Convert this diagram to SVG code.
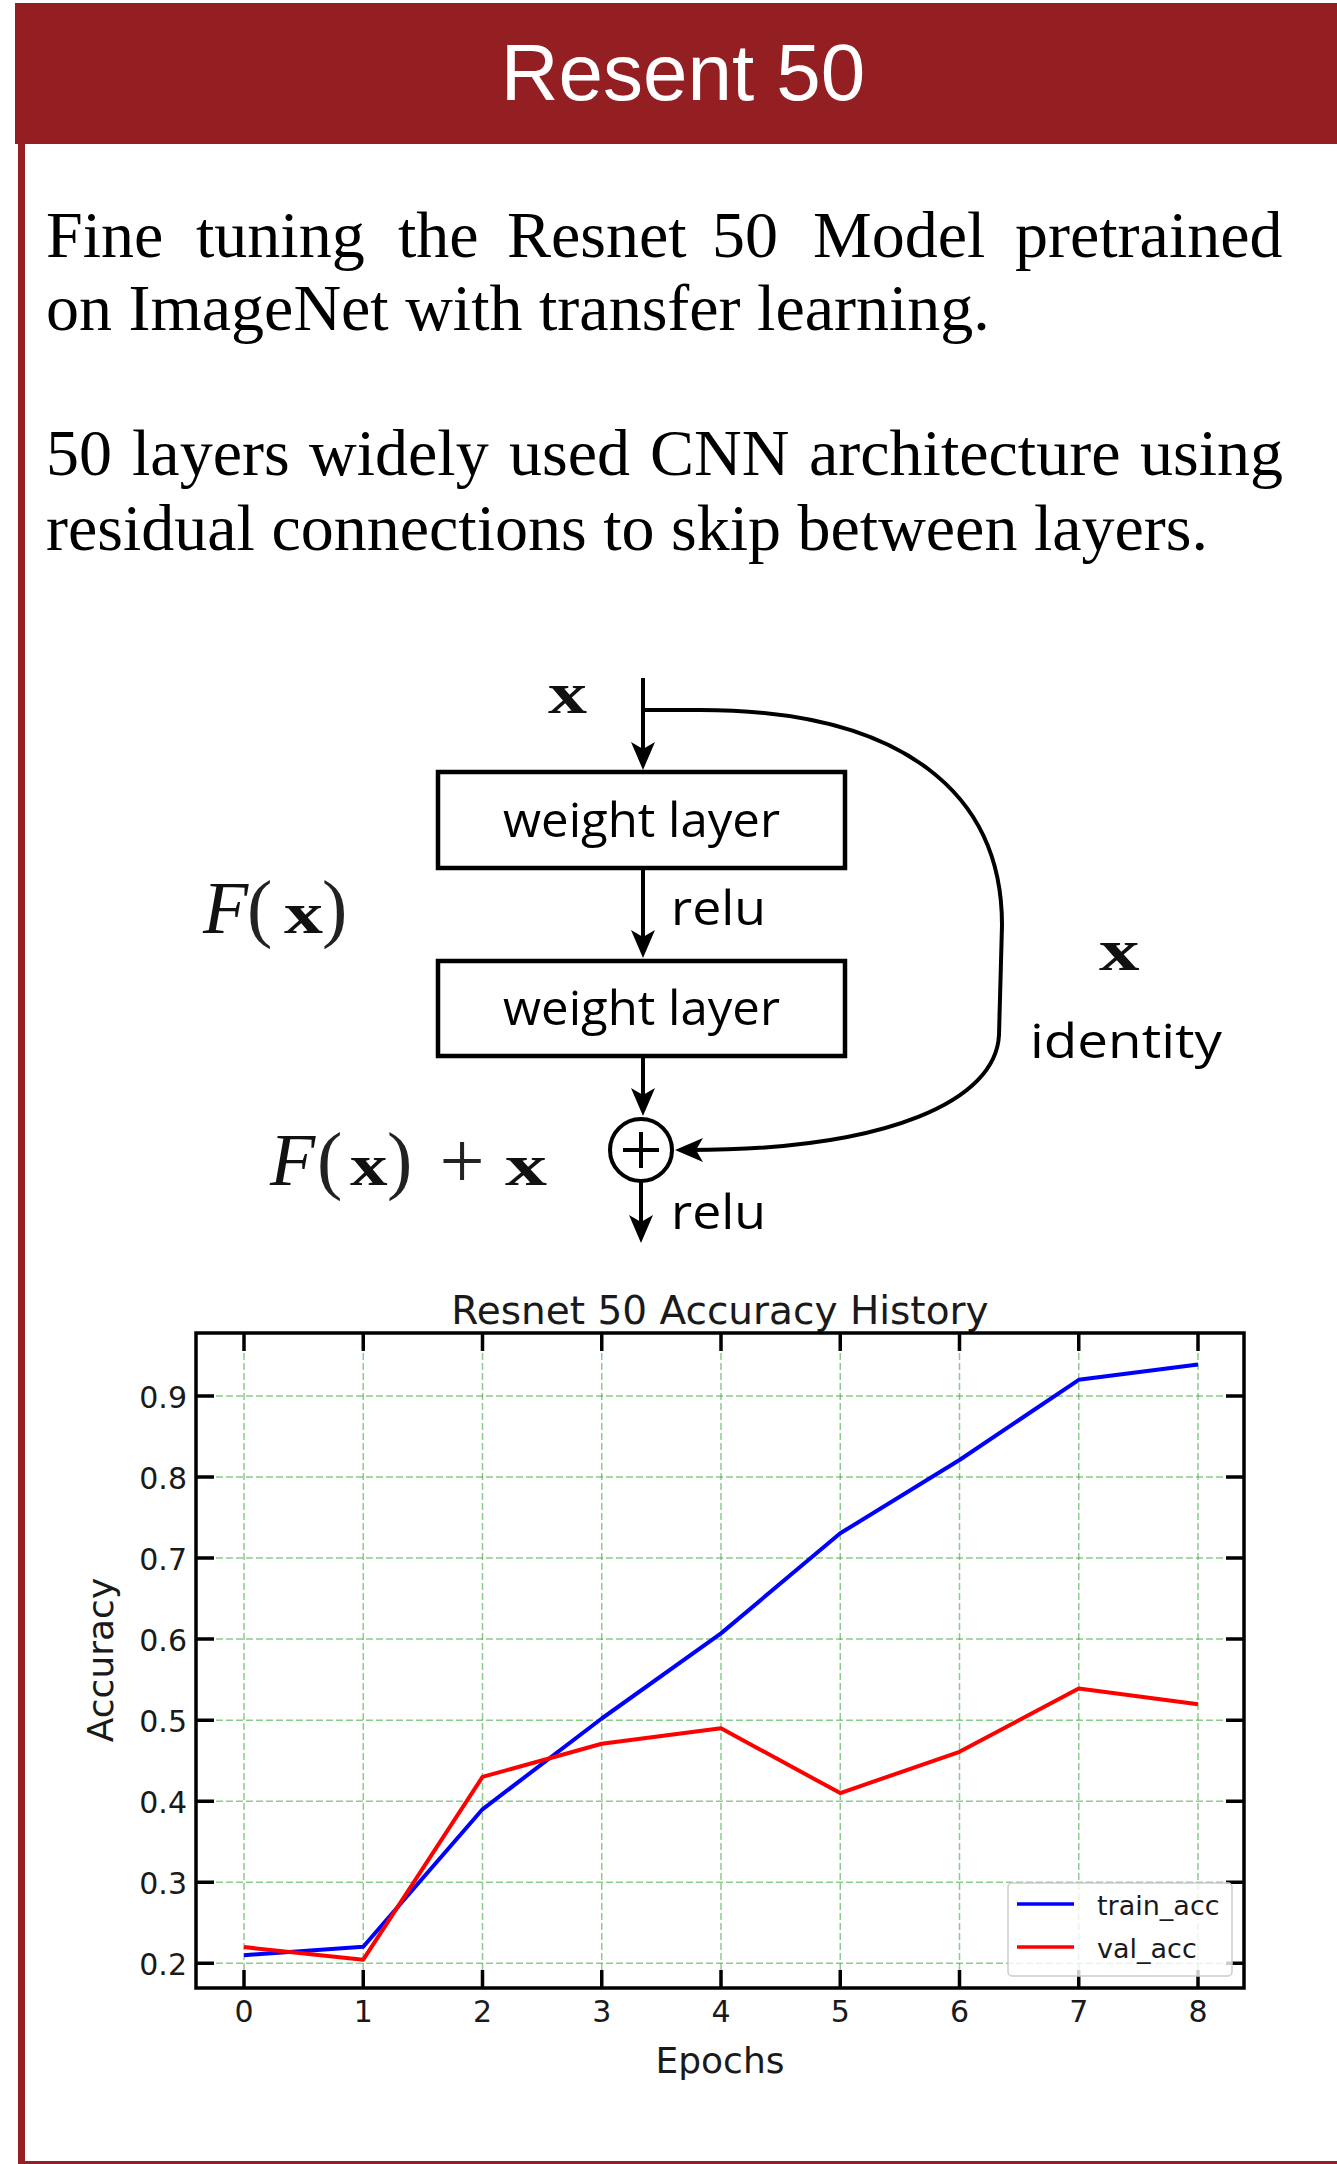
<svg xmlns="http://www.w3.org/2000/svg" width="1337" height="2164" viewBox="0 0 1337 2164">
<defs>
<style>
.body{font-family:"Liberation Serif","Times New Roman",serif;font-size:66px;fill:#000}
.cal{font-family:"Liberation Serif",serif;font-style:italic;font-size:74px;fill:#111}
.par{font-family:"Liberation Serif",serif;font-size:76px;fill:#222}
.bx{font-family:"Liberation Serif",serif;font-weight:bold;font-size:60px;fill:#111}
.lbl{font-family:"Open Sans","Noto Sans",sans-serif;font-size:47px;fill:#000}
.box{fill:#fff;stroke:#000;stroke-width:4.5}
.con{fill:none;stroke:#000;stroke-width:4}
.ch{font-family:"DejaVu Sans",sans-serif;fill:#1a1a1a}
.grid{stroke:#2ca02c;stroke-opacity:0.55;stroke-width:1.5;stroke-dasharray:7 3;fill:none}
.tick{stroke:#000;stroke-width:3.5}
</style>
<marker id="ah" viewBox="0 0 28 24" refX="14" refY="12" markerWidth="28" markerHeight="24" markerUnits="userSpaceOnUse" orient="auto">
<path d="M0,0 L28,12 L0,24 L7,12 Z" fill="#000"/>
</marker>
</defs>
<rect width="1337" height="2164" fill="#fff"/>
<g id="frame">
<rect x="18" y="140" width="7" height="2024" fill="#951f23"/>
<rect x="18" y="2161" width="1319" height="3" fill="#951f23"/>
</g>
<g id="header">
<rect x="15" y="3" width="1322" height="141" fill="#941f22"/>
<text x="683" y="100" text-anchor="middle" font-family="Liberation Sans, Arial, sans-serif" font-size="80" fill="#fff">Resent 50</text>
</g>
<g id="intro-text" class="body">
<text y="257"><tspan x="46">Fine</tspan><tspan x="196">tuning</tspan><tspan x="398">the</tspan><tspan x="507">Resnet</tspan><tspan x="712">50</tspan><tspan x="813">Model</tspan><tspan x="1015">pretrained</tspan></text>
<text x="46" y="330">on ImageNet with transfer learning.</text>
<text y="475"><tspan x="46">50</tspan><tspan x="132">layers</tspan><tspan x="309">widely</tspan><tspan x="509">used</tspan><tspan x="650">CNN</tspan><tspan x="809">architecture</tspan><tspan x="1140">using</tspan></text>
<text x="46" y="550">residual connections to skip between layers.</text>
</g>
<g id="connectors">
<path class="con" d="M643,678 L643,756" marker-end="url(#ah)"/>
<path class="con" d="M643,869 L643,944" marker-end="url(#ah)"/>
<path class="con" d="M643,1056 L643,1102" marker-end="url(#ah)"/>
<path class="con" d="M641,1182 L641,1229" marker-end="url(#ah)"/>
<path class="con" d="M643,710 L700,710 C905,710 1002,795 1002,925 L999,1035 C996,1100 890,1150 689,1150" marker-end="url(#ah)"/>
</g>
<g id="node-input-x">
<text class="bx" transform="translate(548,713) scale(1.3,1)" font-size="62">x</text>
</g>
<g id="node-weight1">
<rect class="box" x="438" y="772" width="407" height="96"/>
<text class="lbl" x="503" y="837" textLength="277" lengthAdjust="spacingAndGlyphs">weight layer</text>
</g>
<g id="label-relu1">
<text class="lbl" x="671" y="925" textLength="95" lengthAdjust="spacingAndGlyphs">relu</text>
</g>
<g id="node-weight2">
<rect class="box" x="438" y="961" width="407" height="95"/>
<text class="lbl" x="503" y="1025" textLength="277" lengthAdjust="spacingAndGlyphs">weight layer</text>
</g>
<g id="node-sum">
<circle cx="641" cy="1150" r="31" fill="#fff" stroke="#000" stroke-width="4"/>
<path d="M623,1150 H659 M641,1132 V1168" stroke="#000" stroke-width="4"/>
</g>
<g id="label-relu2">
<text class="lbl" x="671" y="1229" textLength="95" lengthAdjust="spacingAndGlyphs">relu</text>
</g>
<g id="label-Fx">
<text class="cal" x="203" y="933">F</text>
<text class="par" x="247" y="933">(</text>
<text class="bx" transform="translate(284,933) scale(1.3,1)">x</text>
<text class="par" x="322" y="933">)</text>
</g>
<g id="label-identity">
<text class="bx" transform="translate(1099,970) scale(1.35,1)" font-size="62">x</text>
<text class="lbl" x="1030" y="1058" textLength="192" lengthAdjust="spacingAndGlyphs">identity</text>
</g>
<g id="label-Fx-plus-x">
<text class="cal" x="270" y="1185">F</text>
<text class="par" x="317" y="1185">(</text>
<text class="bx" transform="translate(350,1185) scale(1.25,1)">x</text>
<text class="par" x="387" y="1185">)</text>
<text x="462" y="1188" text-anchor="middle" font-family="Liberation Serif, serif" font-size="80" fill="#222">+</text>
<text class="bx" transform="translate(505,1185) scale(1.4,1)">x</text>
</g>
<g id="chart">
<text class="ch" x="720" y="1324" text-anchor="middle" font-size="39">Resnet 50 Accuracy History</text>
<g id="grid">
<path class="grid" d="M244,1333V1988 M363.25,1333V1988 M482.5,1333V1988 M601.75,1333V1988 M721,1333V1988 M840.25,1333V1988 M959.5,1333V1988 M1078.75,1333V1988 M1198,1333V1988"/>
<path class="grid" d="M196,1396H1244 M196,1477H1244 M196,1558.1H1244 M196,1639.1H1244 M196,1720.2H1244 M196,1801.2H1244 M196,1882.3H1244 M196,1963.3H1244"/>
</g>
<g id="series">
<polyline fill="none" stroke="#0000ff" stroke-width="4" stroke-linejoin="round" points="244,1955.2 363.25,1946.8 482.5,1809.3 601.75,1718.5 721,1633.4 840.25,1533.3 959.5,1460 1078.75,1379.8 1198,1364.4"/>
<polyline fill="none" stroke="#ff0000" stroke-width="4" stroke-linejoin="round" points="244,1947.1 363.25,1959.7 482.5,1776.9 601.75,1743.7 721,1728.3 840.25,1793.1 959.5,1751.8 1078.75,1688.6 1198,1704.3"/>
</g>
<rect x="196" y="1333" width="1048" height="655" fill="none" stroke="#000" stroke-width="3.5"/>
<g id="ticks" class="tick">
<path d="M244,1333v18 M363.25,1333v18 M482.5,1333v18 M601.75,1333v18 M721,1333v18 M840.25,1333v18 M959.5,1333v18 M1078.75,1333v18 M1198,1333v18"/>
<path d="M244,1988v-18 M363.25,1988v-18 M482.5,1988v-18 M601.75,1988v-18 M721,1988v-18 M840.25,1988v-18 M959.5,1988v-18 M1078.75,1988v-18 M1198,1988v-18"/>
<path d="M196,1396h18 M196,1477h18 M196,1558.1h18 M196,1639.1h18 M196,1720.2h18 M196,1801.2h18 M196,1882.3h18 M196,1963.3h18"/>
<path d="M1244,1396h-18 M1244,1477h-18 M1244,1558.1h-18 M1244,1639.1h-18 M1244,1720.2h-18 M1244,1801.2h-18 M1244,1882.3h-18 M1244,1963.3h-18"/>
</g>
<g id="ytick-labels" class="ch" font-size="30" text-anchor="end">
<text x="187" y="1408">0.9</text>
<text x="187" y="1489">0.8</text>
<text x="187" y="1570">0.7</text>
<text x="187" y="1651">0.6</text>
<text x="187" y="1732">0.5</text>
<text x="187" y="1813">0.4</text>
<text x="187" y="1894">0.3</text>
<text x="187" y="1975">0.2</text>
</g>
<g id="xtick-labels" class="ch" font-size="30" text-anchor="middle">
<text x="244" y="2022">0</text>
<text x="363.25" y="2022">1</text>
<text x="482.5" y="2022">2</text>
<text x="601.75" y="2022">3</text>
<text x="721" y="2022">4</text>
<text x="840.25" y="2022">5</text>
<text x="959.5" y="2022">6</text>
<text x="1078.75" y="2022">7</text>
<text x="1198" y="2022">8</text>
</g>
<text class="ch" x="720" y="2073" text-anchor="middle" font-size="36">Epochs</text>
<text class="ch" transform="translate(113,1660) rotate(-90)" text-anchor="middle" font-size="36">Accuracy</text>
<g id="legend">
<rect x="1008" y="1883" width="224" height="93" rx="4" fill="#fff" fill-opacity="0.8" stroke="#cccccc" stroke-width="1.5"/>
<path d="M1017,1904H1074" stroke="#0000ff" stroke-width="3.5"/>
<path d="M1017,1947H1074" stroke="#ff0000" stroke-width="3.5"/>
<text class="ch" x="1097" y="1915" font-size="27">train_acc</text>
<text class="ch" x="1097" y="1958" font-size="27">val_acc</text>
</g>
</g>
</svg>
